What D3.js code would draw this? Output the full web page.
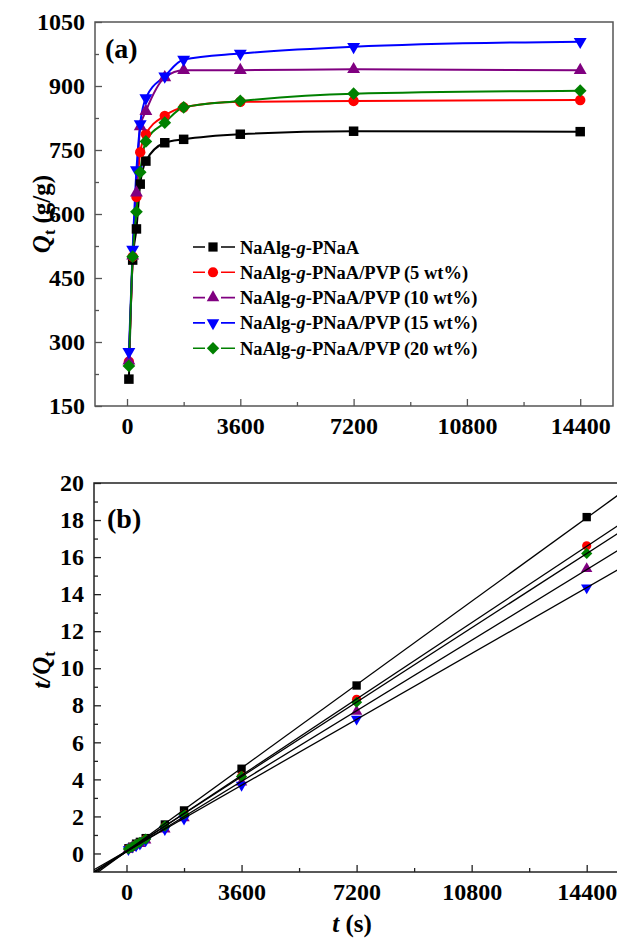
<!DOCTYPE html>
<html>
<head>
<meta charset="utf-8">
<script src="https://cdn.jsdelivr.net/npm/d3@7"></script>
<style>
  body { margin: 0; background: #fff; }
  svg { display: block; }
  text { font-family: "Liberation Serif", "Times New Roman", serif; font-weight: bold; fill: #000; }
</style>
</head>
<body>
<script>
// swelling time (s)
const times = [60, 180, 300, 420, 600, 1200, 1800, 3600, 7200, 14400];

// Qt (g/g) for each sample
const qPNaA   = [213, 492, 565, 670, 724, 767, 775, 787, 794, 793];
const qPVP5   = [254, 500, 640, 745, 787, 830, 850, 863, 865, 867];
const qPVP10  = [256, 502, 650, 805, 841, 920, 937, 937, 939, 937];
const qPVP15  = [277, 517, 703, 811, 872, 923, 962, 976, 992, 1004];
const qPVP20  = [244, 500, 605, 698, 770, 814, 850, 865, 882, 889];

const seriesNames = ['NaAlg-g-PNaA', 'NaAlg-g-PNaA/PVP (5 wt%)', 'NaAlg-g-PNaA/PVP (10 wt%)',
  'NaAlg-g-PNaA/PVP (15 wt%)', 'NaAlg-g-PNaA/PVP (20 wt%)'];
const seriesColors = ['#000000', '#ff0000', '#800080', '#0000ff', '#008000'];
const seriesShapes = ['square', 'circle', 'triangle', 'triangleDown', 'diamond'];

const xTicks = [0, 3600, 7200, 10800, 14400];
const xMinor = [1800, 5400, 9000, 12600];
const yTicksA = [150, 300, 450, 600, 750, 900, 1050];
const yTicksB = [0, 2, 4, 6, 8, 10, 12, 14, 16, 18, 20];

const allQ = [qPNaA, qPVP5, qPVP10, qPVP15, qPVP20];
const series = seriesNames.map((name, i) => ({
  name: name,
  color: seriesColors[i],
  shape: seriesShapes[i],
  points: times.map((t, j) => ({ t: t, q: allQ[i][j], r: t / allQ[i][j] }))
}));

const W = 617, H = 939;
const svg = d3.select('body').append('svg')
  .attr('width', W)
  .attr('height', H);
svg.append('rect').attr('width', W).attr('height', H).attr('fill', '#fff');

// marker drawing
function symbolPath(shape, size) {
  if (shape === 'circle') return d3.symbol(d3.symbolCircle, size * 0.95)();
  if (shape === 'square') return d3.symbol(d3.symbolSquare, size)();
  if (shape === 'diamond') return d3.symbol(d3.symbolSquare, size * 0.9)();
  return d3.symbol(d3.symbolTriangle, size * 0.8)();
}
function symbolRotate(shape) {
  if (shape === 'diamond') return 45;
  if (shape === 'triangleDown') return 180;
  return 0;
}
function addMarker(g, shape, color, x, y, size) {
  g.append('path')
    .attr('d', symbolPath(shape, size))
    .attr('transform', `translate(${x},${y}) rotate(${symbolRotate(shape)})`)
    .attr('fill', color);
}

function drawAxes(g, x, y, yTicks, yMinor, frameColor) {
  const [x0, x1] = x.range();
  const [y0, y1] = y.range();

  const xAxis = g.append('g')
    .attr('transform', `translate(0,${y0})`)
    .call(d3.axisBottom(x).tickValues(xTicks).tickSize(-7).tickPadding(11).tickFormat(d3.format('d')));
  g.append('g')
    .attr('transform', `translate(0,${y0})`)
    .call(d3.axisBottom(x).tickValues(xMinor).tickSize(-4).tickFormat(''));
  const yAxis = g.append('g')
    .attr('transform', `translate(${x0},0)`)
    .call(d3.axisLeft(y).tickValues(yTicks).tickSize(-7).tickPadding(10).tickFormat(d3.format('d')));
  g.append('g')
    .attr('transform', `translate(${x0},0)`)
    .call(d3.axisLeft(y).tickValues(yMinor).tickSize(-4).tickFormat(''));

  g.selectAll('.domain').remove();
  g.selectAll('.tick line').attr('stroke', frameColor).attr('stroke-width', 1.3);
  xAxis.selectAll('text').attr('font-size', 24);
  yAxis.selectAll('text').attr('font-size', 24);

  g.append('rect')
    .attr('x', x0).attr('y', y1)
    .attr('width', x1 - x0).attr('height', y0 - y1)
    .attr('fill', 'none')
    .attr('stroke', frameColor)
    .attr('stroke-width', 1.5);
}

// ---------- panel (a) ----------
const xA = d3.scaleLinear().domain([-1017, 15442]).range([95, 613]);
const yA = d3.scaleLinear().domain([150, 1050]).range([406, 22]);
const gA = svg.append('g');
drawAxes(gA, xA, yA, yTicksA, d3.range(225, 1050, 150), '#555');

const lineA = d3.line()
  .x(d => xA(d.t))
  .y(d => yA(d.q))
  .curve(d3.curveMonotoneX);

series.forEach(s => {
  gA.append('path')
    .datum(s.points)
    .attr('d', lineA)
    .attr('fill', 'none')
    .attr('stroke', s.color)
    .attr('stroke-width', 2);
});
series.forEach(s => {
  s.points.forEach(p => addMarker(gA, s.shape, s.color, xA(p.t), yA(p.q), 90));
});

gA.append('text')
  .attr('x', 105).attr('y', 58)
  .attr('font-size', 28)
  .text('(a)');

// legend
const legend = gA.append('g');
series.forEach((s, i) => {
  const ly = 247 + i * 25.3;
  legend.append('line')
    .attr('x1', 193).attr('x2', 235)
    .attr('y1', ly).attr('y2', ly)
    .attr('stroke', s.color)
    .attr('stroke-width', 1.6);
  legend.append('rect')
    .attr('x', 205).attr('y', ly - 7).attr('width', 16).attr('height', 14)
    .attr('fill', '#fff');
  addMarker(legend, s.shape, s.color, 213, ly, 85);
  const t = legend.append('text')
    .attr('x', 240).attr('y', ly + 6.5)
    .attr('font-size', 18.5);
  const parts = s.name.split('-g-');
  t.append('tspan').text(parts[0] + '-');
  t.append('tspan').attr('font-style', 'italic').text('g');
  t.append('tspan').text('-' + parts[1]);
});

// y title (a)
const ytA = gA.append('text')
  .attr('transform', 'translate(50,214) rotate(-90)')
  .attr('text-anchor', 'middle')
  .attr('font-size', 25);
ytA.append('tspan').attr('font-style', 'italic').text('Q');
ytA.append('tspan').attr('font-size', 16).attr('dy', 5).text('t');
ytA.append('tspan').attr('dy', -5).text(' (g/g)');

// ---------- panel (b) ----------
const xB = d3.scaleLinear().domain([-1017, 15442]).range([94, 620]);
const yB = d3.scaleLinear().domain([-1, 20]).range([872, 483]);
const gB = svg.append('g');
drawAxes(gB, xB, yB, yTicksB, d3.range(1, 20, 2), '#222');

svg.append('clipPath').attr('id', 'clipB')
  .append('rect')
  .attr('x', 94).attr('y', 483)
  .attr('width', 620 - 94).attr('height', 872 - 483);

series.forEach(s => {
  s.points.forEach(p => addMarker(gB, s.shape, s.color, xB(p.t), yB(p.r), 70));
});

// linear fits of t/Qt against t
const fitG = gB.append('g').attr('clip-path', 'url(#clipB)');
series.forEach(s => {
  const mx = d3.mean(s.points, p => p.t);
  const my = d3.mean(s.points, p => p.r);
  const slope = d3.sum(s.points, p => (p.t - mx) * (p.r - my)) / d3.sum(s.points, p => (p.t - mx) * (p.t - mx));
  const icpt = my - slope * mx;
  const [t0, t1] = xB.domain();
  fitG.append('line')
    .attr('x1', xB(t0)).attr('y1', yB(icpt + slope * t0))
    .attr('x2', xB(t1)).attr('y2', yB(icpt + slope * t1))
    .attr('stroke', '#000')
    .attr('stroke-width', 1.3);
});

gB.append('text')
  .attr('x', 107).attr('y', 528)
  .attr('font-size', 28)
  .text('(b)');

// y title (b)
const ytB = gB.append('text')
  .attr('transform', 'translate(50,670) rotate(-90)')
  .attr('text-anchor', 'middle')
  .attr('font-size', 25);
ytB.append('tspan').attr('font-style', 'italic').text('t/Q');
ytB.append('tspan').attr('font-size', 16).attr('dy', 5).text('t');

// x title (b)
const xtB = gB.append('text')
  .attr('x', 352).attr('y', 932)
  .attr('text-anchor', 'middle')
  .attr('font-size', 25);
xtB.append('tspan').attr('font-style', 'italic').text('t');
xtB.append('tspan').text(' (s)');
</script>
</body>
</html>
